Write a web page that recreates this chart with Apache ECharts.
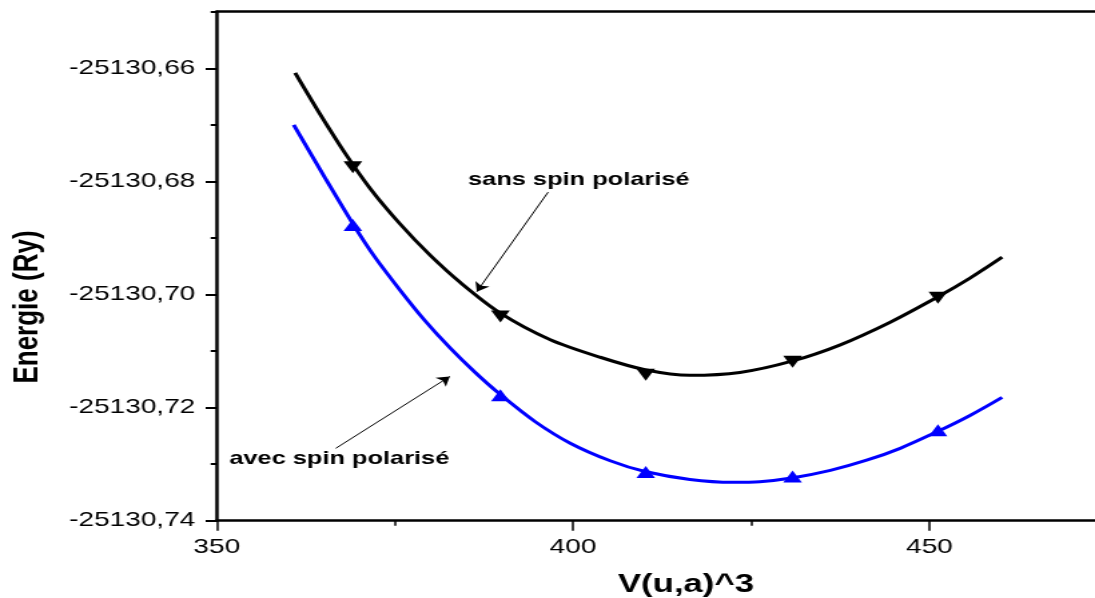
<!DOCTYPE html>
<html>
<head>
<meta charset="utf-8">
<title>Energie - V(u,a)^3</title>
<script src="https://cdn.jsdelivr.net/npm/echarts@6.0.0/dist/echarts.min.js"></script>
<style>
html, body { margin: 0; padding: 0; overflow: hidden; background: #fff; }
/* la figure d'origine est étirée en largeur : on dessine à 820 px puis on étire */
#chart { width: 820px; height: 598px; transform: scaleX(1.33537); transform-origin: 0 0; }
</style>
</head>
<body>
<div id="chart"></div>
<script>
(function () {
	//graduations
	var xTicks = [350, 400, 450];
	var yTicks = [-25130.74, -25130.72, -25130.70, -25130.68, -25130.66];
	var yMinorTicks = [-25130.73, -25130.71, -25130.69, -25130.67, -25130.65];

	//points calculés (V, E)
	var sansPoints = [
		[369.1, -25130.6775], [389.8, -25130.7039], [410.2, -25130.7142],
		[430.8, -25130.7119], [451.2, -25130.7006]
	];
	var avecPoints = [
		[369.1, -25130.6877], [389.8, -25130.7178], [410.2, -25130.7314],
		[430.8, -25130.7322], [451.2, -25130.7240]
	];

	//courbes ajustées
	var sansCurve = [
		[361.0, -25130.6608], [364.5, -25130.6681], [368.0, -25130.6750],
		[371.5, -25130.6812], [375.7, -25130.6875], [379.9, -25130.6930],
		[384.1, -25130.6978], [389.8, -25130.7033], [396.8, -25130.7080],
		[403.8, -25130.7111], [410.1, -25130.7133], [416.4, -25130.7143],
		[423.4, -25130.7138], [430.7, -25130.7118], [437.5, -25130.7089],
		[444.5, -25130.7049], [451.2, -25130.7004], [455.7, -25130.6971],
		[460.2, -25130.6934]
	];
	var avecCurve = [
		[360.8, -25130.6700], [365.2, -25130.6794], [369.1, -25130.6875],
		[372.2, -25130.6934], [375.7, -25130.6992], [379.2, -25130.7046],
		[382.7, -25130.7094], [386.2, -25130.7137], [389.8, -25130.7177],
		[394.7, -25130.7225], [399.6, -25130.7263], [405.2, -25130.7294],
		[410.1, -25130.7313], [416.4, -25130.7327], [422.4, -25130.7332],
		[426.2, -25130.7331], [430.9, -25130.7324], [436.1, -25130.7311],
		[441.2, -25130.7293], [445.9, -25130.7272], [451.2, -25130.7242],
		[455.7, -25130.7214], [460.2, -25130.7182]
	];

	//annotations : texte, position du texte, début et fin de la flèche
	var sansNote = { text: "sans spin polarisé", at: [400.8, -25130.6798], from: [396.5, -25130.6819], to: [386.5, -25130.6995] };
	var avecNote = { text: "avec spin polarisé", at: [367.2, -25130.7290], from: [366.7, -25130.7272], to: [382.7, -25130.7145] };

	var font = "Liberation Sans, Arial, sans-serif";

	function noteMarks(note) {
		return {
			markLine: {
				silent: true,
				symbol: ["none", "arrow"],
				symbolSize: 9,
				label: { show: false },
				lineStyle: { color: "#000", width: 1, type: "solid" },
				data: [[{ coord: note.from }, { coord: note.to }]]
			},
			markPoint: {
				silent: true,
				symbol: "circle",
				symbolSize: 1,
				itemStyle: { color: "rgba(0,0,0,0)" },
				label: {
					show: true,
					position: "inside",
					formatter: "{b}",
					color: "#000",
					fontFamily: font,
					fontWeight: "bold",
					fontSize: 19
				},
				data: [{ name: note.text, coord: note.at }]
			}
		};
	}

	var myChart = echarts.init(document.getElementById("chart"));

	var option = {
		animation: false,
		backgroundColor: "#fff",
		grid: {
			left: 162.3,
			top: 11.7,
			width: 667.1,
			height: 509,
			outerBoundsMode: "none"
		},
		xAxis: [
			{
				type: "value",
				min: 350,
				max: 475,
				interval: 50,
				position: "bottom",
				axisLine: { lineStyle: { color: "#000", width: 2.5 } },
				axisTick: { customValues: xTicks, length: 10, lineStyle: { color: "#000", width: 1.5 } },
				minorTick: { show: true, splitNumber: 2, length: 5, lineStyle: { color: "#000", width: 1.5 } },
				axisLabel: {
					customValues: xTicks,
					margin: 16,
					color: "#000",
					fontFamily: font,
					fontSize: 21
				},
				splitLine: { show: false }
			},
			{
				type: "value",
				min: 350,
				max: 475,
				position: "top",
				axisLine: { lineStyle: { color: "#000", width: 2.5 } },
				axisTick: { show: false },
				axisLabel: { show: false },
				splitLine: { show: false }
			}
		],
		yAxis: [
			{
				type: "value",
				min: -25130.74,
				max: -25130.65,
				position: "left",
				axisLine: { lineStyle: { color: "#000", width: 2.5 } },
				axisTick: { customValues: yTicks, length: 8.3, lineStyle: { color: "#000", width: 2 } },
				axisLabel: {
					customValues: yTicks,
					margin: 16,
					color: "#000",
					fontFamily: font,
					fontSize: 21,
					formatter: function (v) {
						return v.toFixed(2).replace(".", ",");
					}
				},
				splitLine: { show: false }
			},
			{
				//petites graduations
				type: "value",
				min: -25130.74,
				max: -25130.65,
				position: "left",
				axisLine: { show: false },
				axisTick: { customValues: yMinorTicks, length: 4.5, lineStyle: { color: "#000", width: 2 } },
				axisLabel: { show: false },
				splitLine: { show: false }
			}
		],
		graphic: [
			{
				type: "text",
				x: 21,
				y: 307,
				rotation: Math.PI / 2,
				style: {
					text: "Energie (Ry)",
					fill: "#000",
					font: "bold 26px " + font,
					textAlign: "center",
					textVerticalAlign: "middle"
				}
			},
			{
				type: "text",
				x: 513.7,
				y: 585,
				style: {
					text: "V(u,a)^3",
					fill: "#000",
					font: "bold 26px " + font,
					textAlign: "center",
					textVerticalAlign: "middle"
				}
			}
		],
		series: [
			Object.assign({
				name: "sans spin polarisé",
				type: "line",
				smooth: 0.3,
				showSymbol: false,
				data: sansCurve,
				lineStyle: { color: "#000", width: 3 },
				itemStyle: { color: "#000" },
				silent: true
			}, noteMarks(sansNote)),
			Object.assign({
				name: "avec spin polarisé",
				type: "line",
				smooth: 0.3,
				showSymbol: false,
				data: avecCurve,
				lineStyle: { color: "#0000ff", width: 3 },
				itemStyle: { color: "#0000ff" },
				silent: true
			}, noteMarks(avecNote)),
			{
				name: "sans (points)",
				type: "scatter",
				symbol: "triangle",
				symbolRotate: 180,
				symbolSize: [14, 12],
				itemStyle: { color: "#000", opacity: 1 },
				data: sansPoints,
				silent: true
			},
			{
				name: "avec (points)",
				type: "scatter",
				symbol: "triangle",
				symbolSize: [14, 12],
				itemStyle: { color: "#0000ff", opacity: 1 },
				data: avecPoints,
				silent: true
			}
		]
	};

	myChart.setOption(option);
})();
</script>
</body>
</html>
